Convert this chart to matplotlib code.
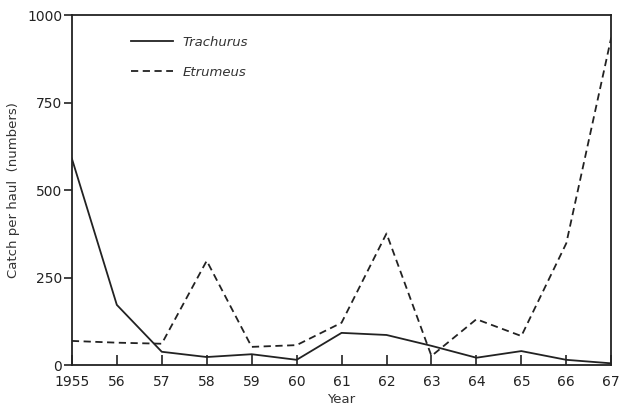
import matplotlib
matplotlib.use('Agg')
import matplotlib.pyplot as plt

years = [1955, 1956, 1957, 1958, 1959, 1960, 1961, 1962, 1963, 1964, 1965, 1966, 1967]
year_labels = ['1955', '56', '57', '58', '59', '60', '61', '62', '63', '64', '65', '66', '67']
trachurus = [590, 172, 38, 23, 31, 15, 92, 86, 55, 21, 40, 15, 5]
etrumeus = [69, 64, 61, 298, 52, 57, 121, 376, 26, 131, 83, 348, 936]
y_ticks = [0, 250, 500, 750, 1000]

plt.rcParams['font.family'] = ['DejaVu Sans']

fig = plt.figure(figsize=(6.25, 4.07), dpi=100)
ax = fig.add_axes([0.115, 0.103, 0.863, 0.86])

ax.plot(years, trachurus, color='#222222', lw=1.3, ls='-', label='Trachurus')
ax.plot(years, etrumeus, color='#222222', lw=1.3, ls=(0, (4, 2.5)), label='Etrumeus')

ax.set_xlim(1955, 1967)
ax.set_ylim(0, 1000)
ax.set_xticks(years)
ax.set_xticklabels(year_labels)
ax.set_yticks(y_ticks)
ax.tick_params(axis='x', direction='in', length=7, width=1.2, labelsize=10, pad=7, colors='#222222')
ax.tick_params(axis='y', direction='out', length=6, width=1.2, labelsize=10, pad=1, colors='#222222')
for s in ax.spines.values():
    s.set_linewidth(1.3)
    s.set_color('#222222')

ax.set_xlabel('Year', fontsize=9.5, color='#333333', labelpad=3)
ax.set_ylabel('Catch per haul  (numbers)', fontsize=9.5, color='#333333', labelpad=5)

leg = ax.legend(loc='upper left', bbox_to_anchor=(0.088, 0.975), frameon=False,
                prop={'style': 'italic', 'size': 9.5}, handlelength=3.2,
                labelspacing=1.3, handletextpad=0.7)
for t in leg.get_texts():
    t.set_color('#333333')

plt.savefig('out.png', dpi=100)
